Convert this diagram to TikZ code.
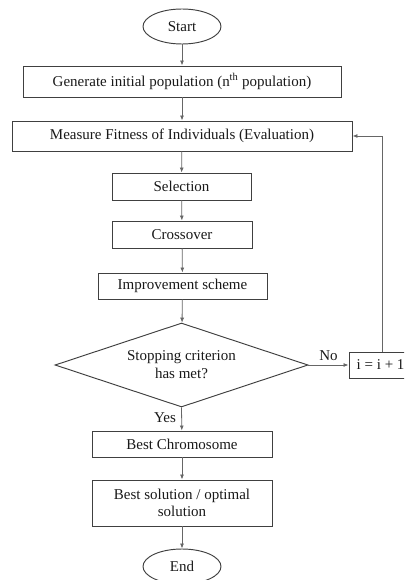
\documentclass[tikz,border=0pt]{standalone}
\usepackage{fontspec}
\setmainfont{Liberation Serif}
\usetikzlibrary{shapes.geometric,arrows.meta}
\begin{document}
\begin{tikzpicture}[x=1pt,y=-1pt,
  every node/.style={font=\fontsize{15}{17}\selectfont, text=black!90},
  box/.style={draw=black!75, line width=0.95pt, rectangle, inner sep=0pt},
  oval/.style={draw=black!75, line width=0.95pt, ellipse, inner sep=0pt, minimum width=78pt, minimum height=35pt},
  dia/.style={draw=black!75, line width=0.95pt, diamond, inner sep=0pt, minimum width=253pt, minimum height=84pt},
  conn/.style={draw=black!60, line width=0.8pt, -{Latex[length=5pt,width=4pt]}}]
\useasboundingbox (0,0) rectangle (404,580);
\clip (0,0) rectangle (404,580);
\node[oval] (start) at (182,26.5) {Start};
\node[box, minimum width=318pt, minimum height=31pt] (gen) at (182,81.5) {Generate initial population (n\textsuperscript{th} population)};
\node[box, minimum width=340pt, minimum height=30pt] (meas) at (182,136) {Measure Fitness of Individuals (Evaluation)};
\node[box, minimum width=139pt, minimum height=27pt] (sel) at (181.5,186.5) {Selection};
\node[box, minimum width=140pt, minimum height=27pt] (cross) at (182,234.5) {Crossover};
\node[box, minimum width=169pt, minimum height=26pt] (impr) at (182.5,286) {Improvement scheme};
\node[dia] (dec) at (181.5,365) {};
\node[align=center, inner sep=0pt] (dectext) at (dec.center) {Stopping criterion\\[1pt]has met?};
\node[box, minimum width=66pt, minimum height=26pt] (inc) at (382,365) {};
\node[inner sep=0pt, anchor=west] (inctext) at ([xshift=8pt]inc.west) {i = i + 1};
\node[box, minimum width=180pt, minimum height=26pt] (best) at (182,444) {Best Chromosome};
\node[box, minimum width=180pt, minimum height=46pt, align=center] (sol) at (182,503) {Best solution / optimal\\solution};
\node[oval] (end) at (182,566.5) {End};
\draw[conn] (start) -- (gen);
\draw[conn] (gen) -- (meas);
\draw[conn] (meas) -- (sel);
\draw[conn] (sel) -- (cross);
\draw[conn] (cross) -- (impr);
\draw[conn] (impr) -- (dec);
\draw[conn] (dec) -- node[above, pos=0.5, yshift=1pt] (nolab) {No} (inc);
\draw[conn] (inc.north) |- (meas.east);
\draw[conn] (dec.south) -- node[left, pos=0.45, xshift=-2pt] (yeslab) {Yes} (best);
\draw[conn] (best) -- (sol);
\draw[conn] (sol) -- (end);
\end{tikzpicture}
\end{document}
